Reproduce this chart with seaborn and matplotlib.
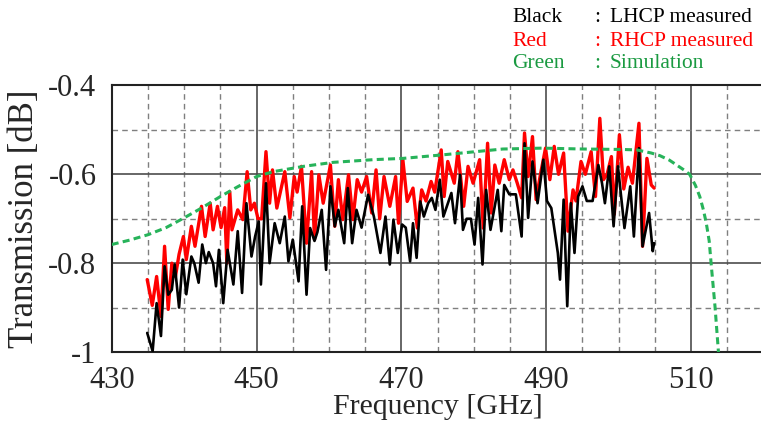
import matplotlib
matplotlib.use("Agg")
import matplotlib.pyplot as plt
from matplotlib.ticker import FixedLocator, MultipleLocator
import seaborn as sns
import pandas as pd

# ---------------- data ----------------
freq_black = [434.9, 435.65, 436.2, 436.8, 437.3, 437.8, 438.3, 438.7, 439.3, 439.8,
              440.3, 441.0, 441.4, 442.0, 442.5, 443.0, 443.4, 444.0, 444.4, 444.8,
              445.4, 446.0, 446.8, 447.4, 448.0, 448.6, 449.3, 449.8, 450.3, 450.6,
              451.3, 451.8, 452.5, 453.2, 453.9, 454.4, 455.0, 455.8, 456.3, 456.9,
              457.4, 458.0, 458.4, 459.0, 459.6, 460.2, 460.8, 461.3, 462.1, 462.6,
              463.2, 463.8, 464.5, 465.4, 466.2, 467.1, 467.8, 468.4, 468.9, 469.5,
              470.1, 470.6, 471.2, 471.6, 472.1, 472.6, 473.1, 473.7, 474.2, 474.7,
              475.3, 475.8, 476.9, 477.4, 478.1, 478.5, 479.0, 479.6, 480.1, 480.6,
              481.2, 481.7, 482.3, 483.3, 483.8, 484.2, 484.9, 485.8, 486.6, 487.0,
              487.5, 488.1, 488.8, 489.6, 490.1, 490.7, 491.6, 491.9, 492.4, 492.9,
              493.4, 493.9, 494.4, 495.0, 495.6, 496.4, 497.2, 497.7, 498.1, 498.7,
              499.3, 499.9, 500.8, 501.6, 502.1, 502.8, 503.3, 504.2, 504.7, 504.9]
loss_black = [-0.957, -0.998, -0.89, -0.964, -0.807, -0.871, -0.86, -0.803, -0.90, -0.792,
              -0.87, -0.785, -0.80, -0.844, -0.758, -0.80, -0.775, -0.80, -0.852, -0.77,
              -0.89, -0.77, -0.848, -0.728, -0.867, -0.665, -0.785, -0.74, -0.706, -0.848,
              -0.62, -0.80, -0.71, -0.755, -0.695, -0.796, -0.747, -0.841, -0.672, -0.871,
              -0.721, -0.75, -0.73, -0.68, -0.815, -0.627, -0.717, -0.68, -0.755, -0.631,
              -0.755, -0.68, -0.72, -0.646, -0.695, -0.777, -0.695, -0.803, -0.702, -0.777,
              -0.713, -0.72, -0.796, -0.71, -0.788, -0.661, -0.695, -0.665, -0.653, -0.68,
              -0.612, -0.695, -0.642, -0.71, -0.601, -0.725, -0.70, -0.70, -0.758, -0.653,
              -0.803, -0.635, -0.725, -0.635, -0.728, -0.624, -0.645, -0.645, -0.74, -0.53,
              -0.698, -0.571, -0.665, -0.567, -0.66, -0.676, -0.777, -0.837, -0.657, -0.897,
              -0.665, -0.777, -0.65, -0.627, -0.66, -0.66, -0.579, -0.62, -0.665, -0.582,
              -0.717, -0.582, -0.721, -0.627, -0.74, -0.541, -0.762, -0.687, -0.773, -0.755]

freq_red = [434.9, 435.6, 436.2, 436.8, 437.3, 437.8, 438.3, 438.8, 439.3, 439.9,
            440.3, 441.0, 441.5, 442.4, 442.9, 443.6, 444.0, 444.6, 445.1, 445.6,
            445.9, 446.3, 446.6, 447.4, 448.1, 448.7, 449.2, 449.7, 450.2, 450.7,
            451.3, 451.8, 452.2, 452.8, 453.9, 454.6, 455.2, 455.6, 456.2, 456.9,
            457.6, 458.0, 458.6, 459.2, 460.2, 460.8, 461.3, 461.9, 462.7, 463.3,
            463.9, 464.5, 465.2, 465.9, 466.5, 467.0, 467.6, 468.4, 469.2, 469.6,
            470.2, 470.8, 471.6, 472.2, 472.8, 473.4, 474.1, 474.6, 475.5, 475.9,
            476.4, 477.3, 477.8, 478.6, 479.2, 479.9, 480.8, 481.3, 481.9, 482.4,
            482.9, 483.5, 484.2, 484.9, 485.4, 486.0, 486.6, 487.0, 487.5, 488.1,
            488.6, 489.2, 489.9, 490.5, 491.1, 491.7, 492.4, 493.0, 493.7, 494.1,
            494.8, 495.4, 496.2, 496.8, 497.4, 497.9, 498.4, 499.0, 499.4, 500.1,
            500.7, 501.3, 501.9, 502.8, 503.3, 503.9, 504.5, 504.9]
loss_red = [-0.837, -0.895, -0.83, -0.92, -0.762, -0.904, -0.80, -0.83, -0.78, -0.74,
            -0.792, -0.717, -0.762, -0.672, -0.74, -0.665, -0.725, -0.672, -0.72, -0.675,
            -0.80, -0.639, -0.725, -0.68, -0.702, -0.594, -0.68, -0.665, -0.70, -0.70,
            -0.549, -0.665, -0.59, -0.676, -0.594, -0.698, -0.605, -0.64, -0.582, -0.755,
            -0.594, -0.747, -0.601, -0.665, -0.579, -0.717, -0.612, -0.702, -0.601, -0.702,
            -0.612, -0.64, -0.605, -0.687, -0.59, -0.70, -0.605, -0.672, -0.605, -0.71,
            -0.567, -0.661, -0.631, -0.721, -0.635, -0.66, -0.616, -0.64, -0.545, -0.65,
            -0.571, -0.62, -0.549, -0.672, -0.582, -0.62, -0.567, -0.721, -0.53, -0.687,
            -0.579, -0.62, -0.567, -0.612, -0.59, -0.62, -0.653, -0.507, -0.605, -0.515,
            -0.657, -0.60, -0.541, -0.612, -0.537, -0.60, -0.552, -0.728, -0.635, -0.66,
            -0.571, -0.60, -0.549, -0.65, -0.474, -0.612, -0.60, -0.56, -0.69, -0.511,
            -0.633, -0.584, -0.62, -0.485, -0.762, -0.564, -0.624, -0.631]

freq_sim = [430, 432.5, 435, 437.5, 440, 442.5, 445, 447.5, 450, 452.3, 456.5, 460.6,
            466.1, 470.3, 475.8, 484, 489.5, 495, 500.5, 502.5, 504.5, 505.7, 507, 508,
            509, 509.8, 510.6, 511.2, 511.7, 512.1, 512.5, 512.8, 513.3, 513.75, 514.1]
loss_sim = [-0.758, -0.748, -0.736, -0.72, -0.698, -0.675, -0.65, -0.627, -0.605, -0.594,
            -0.582, -0.573, -0.567, -0.564, -0.556, -0.543, -0.541, -0.543, -0.544, -0.545,
            -0.552, -0.558, -0.568, -0.579, -0.59, -0.60, -0.625, -0.65, -0.68, -0.71,
            -0.75, -0.807, -0.897, -0.994, -1.08]

x_ticks = [430, 450, 470, 490, 510]
y_ticks = [-1.0, -0.8, -0.6, -0.4]
y_tick_labels = ["-1", "-0.8", "-0.6", "-0.4"]
legend_rows = [("Black", "LHCP measured"), ("Red", "RHCP measured"), ("Green", "Simulation")]

# ---------------- style ----------------
sns.set_style("white")
plt.rcParams["font.family"] = ["Liberation Serif", "DejaVu Serif"]

RED = "#ff0000"
GREEN_LINE = "#27b35a"
GREEN_TEXT = "#1a9a41"
legend_colors = ["#000000", RED, GREEN_TEXT]

fig = plt.figure(figsize=(7.61, 4.26), dpi=100)
ax = fig.add_axes([0.1468, 0.1737, 0.8565, 0.6256])

df_black = pd.DataFrame({"f": freq_black, "v": loss_black})
df_red = pd.DataFrame({"f": freq_red, "v": loss_red})
df_sim = pd.DataFrame({"f": freq_sim, "v": loss_sim})

sns.lineplot(data=df_red, x="f", y="v", ax=ax, color=RED, lw=2.4,
             sort=False, estimator=None, zorder=3)
sns.lineplot(data=df_black, x="f", y="v", ax=ax, color="black", lw=1.9,
             sort=False, estimator=None, zorder=4)
sns.lineplot(data=df_sim, x="f", y="v", ax=ax, color=GREEN_LINE, lw=2.2,
             sort=False, estimator=None, zorder=5, dashes=False)
ax.lines[-1].set_dashes((2.3, 1.4))
for ln in ax.lines[:2]:
    ln.set_solid_joinstyle("round")
    ln.set_solid_capstyle("round")

ax.set_xlim(430, 520)
ax.set_ylim(-1.0, -0.4)

ax.xaxis.set_major_locator(FixedLocator(x_ticks))
ax.xaxis.set_minor_locator(MultipleLocator(5))
ax.yaxis.set_major_locator(FixedLocator(y_ticks))
ax.yaxis.set_minor_locator(MultipleLocator(0.1))
ax.set_yticklabels(y_tick_labels)

ax.grid(which="major", color="#4d4d4d", lw=1.2, ls="-", zorder=1)
ax.grid(which="minor", color="#7f7f7f", lw=1.0, ls=(0, (4, 3)), zorder=1)
ax.set_axisbelow(True)

ax.tick_params(which="both", length=0)
ax.tick_params(axis="x", labelsize=22, pad=10)
ax.tick_params(axis="y", labelsize=22, pad=11)

for s in ax.spines.values():
    s.set_color("#222222")
    s.set_linewidth(1.5)

ax.set_xlabel("Frequency [GHz]", fontsize=21.5, labelpad=-1)
ax.set_ylabel("Transmission [dB]", fontsize=25, labelpad=5)

# colour key at top right
row_y = [18, 41, 64]
for (name, desc), c, yy in zip(legend_rows, legend_colors, row_y):
    yf = 1 - yy / 426
    fig.text(512 / 761, yf, name, color=c, fontsize=15.5, ha="left", va="center")
    fig.text(597 / 761, yf, ":", color=c, fontsize=15.5, ha="center", va="center")
    fig.text(610 / 761, yf, desc, color=c, fontsize=15.5, ha="left", va="center")

if ax.get_legend() is not None:
    ax.get_legend().remove()

fig.savefig("out.png", dpi=100)
